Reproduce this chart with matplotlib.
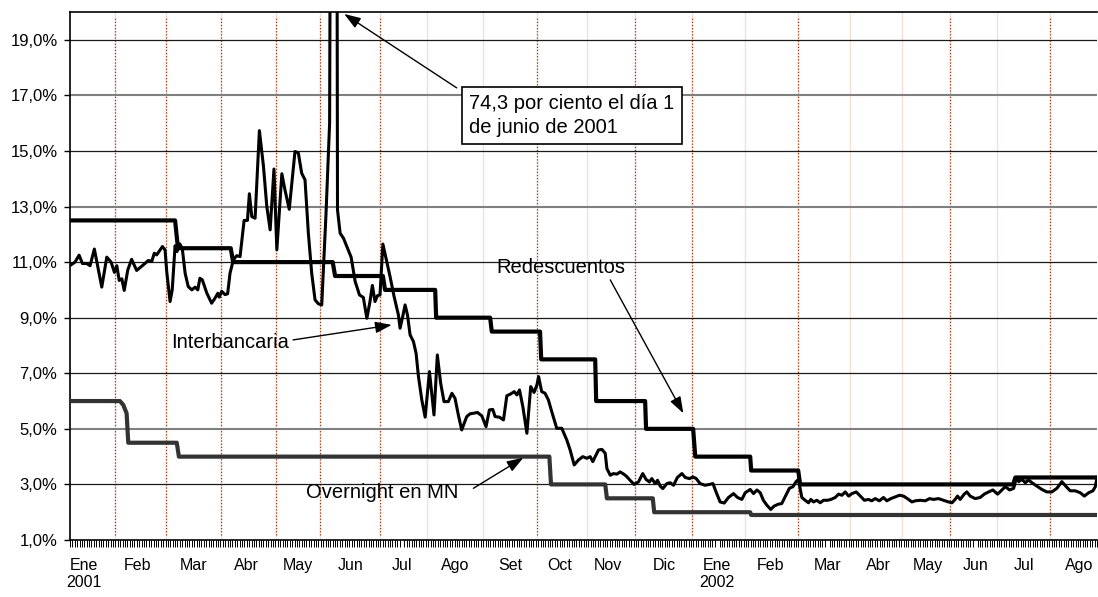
import matplotlib
matplotlib.use("Agg")
import matplotlib.pyplot as plt
from matplotlib.ticker import FixedLocator, MultipleLocator

plt.rcParams["font.family"] = ["Liberation Sans", "DejaVu Sans"]

# ===========================
# Data (x = business-day index from Jan 2001, y = rate in %)
# ===========================
INTERBANK_DAY = [
    0.4, 2.1, 3.8, 5.2, 7.0, 8.4, 10.2, 11.6, 13.3, 15.4, 17.2, 18.6, 19.6, 20.6,
    21.7, 22.7, 24.2, 25.8, 27.9, 30.7, 32.8, 34.2, 35.3, 36.3, 38.7, 39.8, 40.5,
    41.9, 42.8, 44.0, 44.8, 45.9, 47.0, 48.2, 49.5, 51.0, 52.4, 53.5, 54.4, 55.4,
    57.3, 59.3, 60.7, 61.9, 62.5, 63.5, 64.9, 66.0, 67.0, 68.4, 69.8,
    71.2, 72.9, 74.3, 75.1, 76.1, 77.5, 79.3, 81.0, 82.4, 83.8, 85.4, 86.6, 88.7,
    90.0, 91.8, 93.3, 94.2, 95.6, 97.0, 98.4, 99.8, 101.2, 102.6, 104.0, 105.4,
    107.2, 108.7, 110.8, 112.0, 113.1, 114.5, 115.9, 117.7, 119.4, 121.2, 122.8,
    124.3, 125.6, 126.6, 127.7, 128.7, 129.8, 131.0, 132.3, 134.0, 135.7, 137.5,
    138.2, 139.3, 140.3, 141.3, 142.4, 143.8, 144.9, 145.9, 147.3, 148.7, 150.5,
    152.4, 153.8, 155.2, 156.6, 158.4, 159.9, 161.2, 162.6, 164.0, 166.1, 167.5,
    168.9, 170.6, 172.4, 174.2, 175.6, 177.0, 178.0, 179.8, 181.5, 182.9, 184.6,
    186.0, 187.1, 188.2, 189.6, 191.3, 192.9, 194.3, 195.5, 196.2, 197.5, 198.9,
    200.3, 201.7, 203.8, 205.9, 208.0, 209.4,
    211.1, 212.9, 214.7, 216.4, 217.8, 218.9, 219.9, 221.3, 222.7, 224.1, 224.8,
    226.2, 227.5, 229.0, 230.3, 231.5, 232.9, 234.5, 236.2, 238.0, 239.8, 241.2,
    242.6, 243.6, 245.0, 246.0, 247.1, 248.2, 249.9, 251.3, 252.7, 254.3, 256.2,
    257.6, 259.4, 260.8, 262.2, 263.8, 265.9, 267.7, 269.2, 270.5, 272.2, 273.9,
    275.7, 277.8, 279.5, 281.3, 282.7,
    284.8, 286.2, 287.6, 289.0, 290.3, 291.8, 293.4, 294.8, 296.6, 298.0, 299.4,
    301.2, 302.7, 304.0, 305.0, 306.4, 307.8, 309.2, 310.2, 311.3, 312.7, 314.1,
    315.5, 317.2, 318.6, 320.4, 321.8, 323.2, 324.6, 326.0, 327.4, 329.2, 330.9,
    332.6, 334.3, 335.7, 337.1, 338.9, 340.6, 342.0, 343.7, 345.5, 347.3, 349.0,
    350.6, 352.5, 353.9,
    356.0, 358.1, 359.9, 361.5, 363.6, 365.7, 367.8, 369.3, 370.6, 371.6, 372.7,
    374.4, 375.5, 376.9, 379.0, 381.1, 382.8, 384.6, 386.4, 388.4, 390.2, 391.6,
    393.4, 395.1, 396.2, 397.2, 398.6, 400.0, 401.3, 402.8, 404.8, 406.9, 409.0,
    411.1, 413.2, 415.3, 417.1, 418.8, 420.9, 423.0, 424.7, 426.5, 428.3, 429.3,
    430.0,
]
INTERBANK_RATE = [
    10.9, 11.0, 11.25, 10.95, 10.95, 10.87, 11.47, 10.85, 10.1, 11.18, 11.0, 10.63,
    10.87, 10.34, 10.4, 9.98, 10.72, 11.1, 10.7, 10.9, 11.06, 11.02, 11.32, 11.26,
    11.56, 11.44, 10.66, 9.58, 10.0, 11.59, 11.38, 11.66, 11.5, 10.6, 10.12, 10.0,
    10.1, 10.0, 10.42, 10.36, 9.88, 9.52, 9.7, 9.88, 9.74, 9.95, 9.83, 9.86, 10.6,
    11.08, 11.23,
    11.2, 12.5, 12.5, 13.46, 12.64, 12.58, 15.73, 14.45, 13.0, 12.16, 14.35, 11.44,
    14.18, 13.6, 12.9, 14.2, 14.98, 14.93, 14.2, 13.96, 12.04, 10.6, 9.64, 9.5,
    9.46, 12.76, 16.0, 74.3, 12.88, 12.04, 11.86, 11.56, 11.18, 10.3, 9.82, 9.73,
    8.98, 9.58, 10.16, 9.58, 9.79, 9.82, 11.65, 11.14, 10.48, 9.76, 9.1,
    8.62, 9.04, 9.46, 9.1, 8.38, 8.14, 7.72, 6.88, 6.04, 5.42, 7.06, 5.5, 7.66,
    6.64, 5.98, 5.98, 6.28, 6.1, 5.5, 4.96, 5.44, 5.54, 5.56, 5.59, 5.47, 5.08,
    5.68, 5.7, 5.44, 5.42, 5.32, 6.19, 6.26, 6.34, 6.22, 6.4, 5.8, 4.84, 6.52,
    6.31, 6.58, 6.88, 6.34, 6.28, 6.04, 5.62, 5.02, 5.02, 4.6, 4.24,
    3.7, 3.88, 4.0, 3.94, 4.0, 3.82, 4.0, 4.24, 4.26, 4.12, 3.57, 3.33, 3.39, 3.37,
    3.45, 3.39, 3.3, 3.15, 3.0, 3.09, 3.39, 3.18, 3.09, 3.21, 3.03, 3.15, 2.94,
    2.85, 3.03, 3.06, 2.97, 3.25, 3.39, 3.25, 3.21, 3.27, 3.21, 3.03, 2.97, 3.0,
    3.03, 2.73, 2.37, 2.33, 2.53, 2.67, 2.53, 2.46, 2.7,
    2.82, 2.67, 2.8, 2.7, 2.43, 2.25, 2.1, 2.22, 2.29, 2.31, 2.55, 2.86, 2.92, 3.1,
    3.18, 2.53, 2.43, 2.34, 2.46, 2.37, 2.43, 2.34, 2.43, 2.43, 2.46, 2.53, 2.65,
    2.61, 2.73, 2.58, 2.67, 2.73, 2.58, 2.43, 2.46, 2.41, 2.49, 2.41, 2.53, 2.41,
    2.49, 2.55, 2.61, 2.58, 2.49, 2.37, 2.41,
    2.43, 2.41, 2.49, 2.46, 2.49, 2.43, 2.37, 2.34, 2.46, 2.58, 2.46, 2.65, 2.73,
    2.58, 2.49, 2.53, 2.65, 2.73, 2.8, 2.65, 2.8, 2.92, 2.8, 2.86, 3.22, 3.1, 3.18,
    3.06, 3.16, 3.06, 2.94, 2.82, 2.73, 2.73, 2.86, 3.1, 2.92, 2.77, 2.77, 2.7,
    2.58, 2.7, 2.77, 2.92, 3.25,
]

REDESC_DAY = [0, 44.0, 45.2, 67.3, 68.3, 110.0, 111.0, 131.0, 131.9, 152.9, 153.3,
              175.9, 176.6, 196.8, 197.3, 219.9, 220.3, 240.8, 241.2, 260.9, 261.8,
              284.8, 285.2, 304.9, 305.7, 394.9, 395.8, 430]
REDESC_RATE = [12.5, 12.5, 11.5, 11.5, 11.0, 11.0, 10.5, 10.5, 10.0, 10.0, 9.0,
               9.0, 8.5, 8.5, 7.5, 7.5, 6.0, 6.0, 5.0, 5.0, 4.0,
               4.0, 3.5, 3.5, 3.0, 3.0, 3.25, 3.25]

OVERNIGHT_DAY = [0, 20.9, 22.3, 23.7, 24.4, 44.7, 45.6, 200.7, 201.4, 224.1, 224.8,
                 244.0, 244.6, 284.8, 285.2, 430]
OVERNIGHT_RATE = [6.0, 6.0, 5.86, 5.56, 4.5, 4.5, 4.0, 4.0, 3.0, 3.0, 2.5,
                  2.5, 2.0, 2.0, 1.9, 1.9]

MONTH_POS = [5.9, 28.1, 51.9, 73.7, 95.5, 117.3, 139.0, 161.2, 184.3, 205.2, 225.3,
             248.8, 271.0, 293.2, 317.0, 338.4, 359.3, 379.0, 399.5, 422.6]
MONTH_LABELS = ["Ene\n2001", "Feb", "Mar", "Abr", "May", "Jun", "Jul", "Ago", "Set",
                "Oct", "Nov", "Dic", "Ene\n2002", "Feb", "Mar", "Abr", "May", "Jun",
                "Jul", "Ago"]

# month separators (end of each month, business-day index)
MONTH_ENDS = [18.8, 40.2, 63.2, 86.3, 104.7, 129.8, 149.5, 173.0, 195.6, 216.5,
              236.6, 260.5, 282.7, 304.9, 326.6, 348.4, 368.5, 388.2, 410.4]
MONTH_ENDS_MARKED = [18.8, 40.2, 63.2, 86.3, 104.7, 129.8, 195.6, 236.6, 260.5,
                     304.9, 368.5, 410.4]

YTICKS = [1, 3, 5, 7, 9, 11, 13, 15, 17, 19]
GREY_GRID = [5, 13, 17]

# ===========================
# Figure
# ===========================
fig = plt.figure(figsize=(10.98, 5.97), dpi=100)
ax = fig.add_axes([70 / 1098, 1 - 540 / 597, 1027 / 1098, 528 / 597])
ax.set_xlim(0, 430)
ax.set_ylim(1, 20)

for x in MONTH_ENDS:
    ax.axvline(x, color="#f5e0d8", lw=1.0, zorder=0)
for x in MONTH_ENDS_MARKED:
    ax.axvline(x, ymin=0.01, ymax=0.99, color="#9c3a10", lw=0.9,
               ls=(0, (1, 1.5)), zorder=1)

for v in YTICKS[1:]:
    if v in GREY_GRID:
        ax.axhline(v, color="#808080", lw=1.5, zorder=1)
    else:
        ax.axhline(v, color="#1a1a1a", lw=0.9, zorder=1)

ax.plot(OVERNIGHT_DAY, OVERNIGHT_RATE, color="#333333", lw=3.0, zorder=3)
ax.plot(REDESC_DAY, REDESC_RATE, color="black", lw=3.0, zorder=3)
ax.plot(INTERBANK_DAY, INTERBANK_RATE, color="black", lw=2.2, zorder=4,
        solid_joinstyle="round")

# axes styling
for side in ["left", "bottom", "top"]:
    ax.spines[side].set_color("black")
    ax.spines[side].set_linewidth(1.2)
ax.spines["right"].set_visible(False)

ax.yaxis.set_major_locator(FixedLocator(YTICKS))
ax.set_yticklabels([f"{v:.1f}".replace(".", ",") + "%" for v in YTICKS])
ax.tick_params(axis="y", direction="out", length=4, width=1, pad=5,
               labelsize=12)

ax.xaxis.set_major_locator(FixedLocator(MONTH_POS))
ax.set_xticklabels(MONTH_LABELS)
ax.xaxis.set_minor_locator(MultipleLocator(1))
ax.tick_params(axis="x", which="major", length=0, pad=13, labelsize=11.5)
ax.tick_params(axis="x", which="minor", direction="out", length=5, width=0.7)

# ===========================
# Annotations
# ===========================
arrow = dict(arrowstyle="-|>,head_length=1.0,head_width=0.35", color="black",
             lw=1.0, shrinkA=0, shrinkB=0)

ax.text(210.2, 16.28, "74,3 por ciento el día 1\nde junio de 2001", ha="center",
        va="center", multialignment="left", fontsize=14.5, linespacing=1.3,
        zorder=6,
        bbox=dict(boxstyle="square,pad=0.35", fc="white", ec="black", lw=1.2))
ax.annotate("", xy=(114.8, 19.93), xytext=(161.9, 17.27), arrowprops=arrow,
            annotation_clip=False, zorder=6)

ax.text(205.6, 10.82, "Redescuentos", ha="center", va="center", fontsize=14.5)
ax.annotate("", xy=(256.8, 5.56), xytext=(226.2, 10.36), arrowprops=arrow)

ax.text(67.0, 8.1, "Interbancaria", ha="center", va="center", fontsize=14.5)
ax.annotate("", xy=(134.7, 8.74), xytext=(93.4, 8.2), arrowprops=arrow)

ax.text(130.7, 2.72, "Overnight en MN", ha="center", va="center", fontsize=14.5)
ax.annotate("", xy=(189.8, 3.96), xytext=(168.9, 2.86), arrowprops=arrow)

fig.savefig("out.png", dpi=100)
plt.close(fig)
